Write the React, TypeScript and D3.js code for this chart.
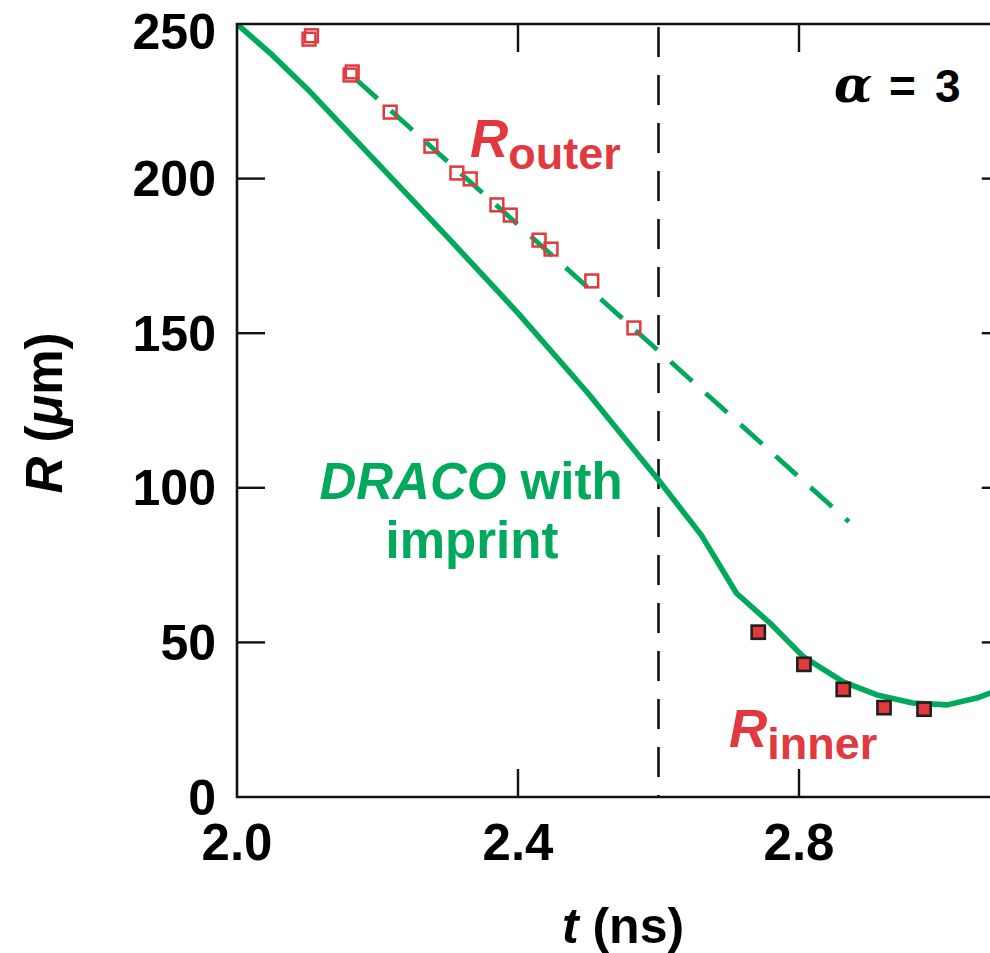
import React from "react";
import * as d3 from "d3";

// ---- data ----
const xTicks = [2.0, 2.4, 2.8];
const yTicks = [0, 50, 100, 150, 200, 250];

// DRACO with imprint (solid)
const tSim = [2.0, 2.05, 2.1, 2.2, 2.3, 2.4, 2.5, 2.6, 2.661, 2.711, 2.759, 2.806, 2.863, 2.911, 2.962, 3.011, 3.053, 3.072, 3.1];
const rSim = [250, 240, 229, 205, 181, 156.5, 130.5, 102.5, 84.7, 65.9, 56.2, 45.4, 37.2, 33, 30.4, 29.8, 32, 33.6, 36];

// outer-radius fit (dashed)
const tFit = [2.165, 2.871];
const rFit = [233, 89];

// measured R_outer (open squares)
const tOuter = [2.1025, 2.106, 2.161, 2.164, 2.218, 2.276, 2.313, 2.332, 2.37, 2.389, 2.43, 2.447, 2.505, 2.565];
const rOuter = [245.1, 246.2, 233.5, 234.5, 221.5, 210.5, 201.8, 199.9, 191.5, 188.2, 180.1, 177.2, 166.9, 151.7];

// measured R_inner (filled squares)
const tInner = [2.742, 2.807, 2.863, 2.921, 2.978];
const rInner = [53.3, 42.9, 34.8, 28.9, 28.4];

const markerTime = 2.6;

const GREEN = "#00a95c";
const RED = "#e2393f";
const FONT = "'Liberation Sans', Arial, Helvetica, sans-serif";

export default function App() {
  const W = 990, H = 953;
  const x = d3.scaleLinear().domain([2.0, 2.8]).range([237, 799]);
  const y = d3.scaleLinear().domain([0, 250]).range([797, 24]);
  const x0 = x(2.0), x1 = x(3.1), y0 = y(0), y1 = y(250);
  const tickLen = 28;

  const line = d3.line<[number, number]>().x(d => x(d[0])).y(d => y(d[1]));
  const simPath = line(tSim.map((t, i) => [t, rSim[i]]))!;
  const fitPath = line(tFit.map((t, i) => [t, rFit[i]]))!;

  const innerTicksX = xTicks.filter(v => v > 2.0);
  const innerTicksY = yTicks.filter(v => v > 0 && v < 250);

  return (
    <svg width={W} height={H} style={{ position: "absolute", left: 0, top: 0, background: "#fff" }}
      fontFamily={FONT} fontWeight="bold">
      <defs>
        <clipPath id="plot">
          <rect x={x0} y={y1} width={x1 - x0} height={y0 - y1} />
        </clipPath>
      </defs>
      <rect x={0} y={0} width={W} height={H} fill="#fff" />

      {/* vertical dashed marker */}
      <line x1={x(markerTime)} x2={x(markerTime)} y1={y1} y2={y0} stroke="#111" strokeWidth={2.6}
        strokeDasharray="30 18" strokeDashoffset={45} />

      <g clipPath="url(#plot)">
        <path d={fitPath} fill="none" stroke={GREEN} strokeWidth={4.8} strokeDasharray="29 18" strokeDashoffset={43} />
        <path d={simPath} fill="none" stroke={GREEN} strokeWidth={5.6} strokeLinejoin="round" />
      </g>

      {/* open squares */}
      {tOuter.map((t, i) => (
        <rect key={"o" + i} x={x(t) - 6.4} y={y(rOuter[i]) - 6.4} width={12.8} height={12.8}
          fill="none" stroke={RED} strokeWidth={2.5} />
      ))}
      {/* filled squares */}
      {tInner.map((t, i) => (
        <rect key={"i" + i} x={x(t) - 6.6} y={y(rInner[i]) - 6.6} width={13.2} height={13.2}
          fill={RED} stroke="#231f20" strokeWidth={2.6} />
      ))}

      {/* frame */}
      <path d={`M${x1},${y1}H${x0}V${y0}H${x1}V${y1}`} fill="none" stroke="#111" strokeWidth={2.6} />
      {innerTicksX.map(v => (
        <g key={"xt" + v}>
          <line x1={x(v)} x2={x(v)} y1={y0} y2={y0 - tickLen} stroke="#111" strokeWidth={2.4} />
          <line x1={x(v)} x2={x(v)} y1={y1} y2={y1 + tickLen} stroke="#111" strokeWidth={2.4} />
        </g>
      ))}
      {innerTicksY.map(v => (
        <g key={"yt" + v}>
          <line x1={x0} x2={x0 + tickLen} y1={y(v)} y2={y(v)} stroke="#111" strokeWidth={2.4} />
          <line x1={x1} x2={x1 - tickLen} y1={y(v)} y2={y(v)} stroke="#111" strokeWidth={2.4} />
        </g>
      ))}

      {/* tick labels */}
      {yTicks.map(v => (
        <text key={"yl" + v} x={216} y={Math.max(y(v), 31) + 17.5} textAnchor="end" fontSize={50} fill="#000">
          {v}
        </text>
      ))}
      {xTicks.map(v => (
        <text key={"xl" + v} x={x(v)} y={860} textAnchor="middle" fontSize={51} fill="#000">
          {v.toFixed(1)}
        </text>
      ))}

      {/* axis titles */}
      <text x={623} y={943} textAnchor="middle" fontSize={50} fill="#000">
        <tspan fontStyle="italic">t</tspan> (ns)
      </text>
      <text transform="translate(62,413) rotate(-90)" textAnchor="middle" fontSize={51} fill="#000">
        <tspan fontStyle="italic">R</tspan> (<tspan fontStyle="italic">μ</tspan>m)
      </text>

      {/* annotations */}
      <text x={470} y={157} fontSize={53} fill={RED}>
        <tspan fontStyle="italic">R</tspan>
        <tspan dy={12} fontSize={45}>outer</tspan>
      </text>
      <text x={729} y={747} fontSize={53} fill={RED}>
        <tspan fontStyle="italic">R</tspan>
        <tspan dy={12} fontSize={45}>inner</tspan>
      </text>
      <text x={471} y={499} textAnchor="middle" fontSize={51} fill={GREEN}>
        <tspan fontStyle="italic">DRACO</tspan> with
      </text>
      <text x={472} y={558} textAnchor="middle" fontSize={51} fill={GREEN}>imprint</text>
      <text y={102} fontSize={46} fill="#000">
        <tspan x={834} fontFamily="'DejaVu Serif', 'Liberation Serif', serif" fontStyle="italic" fontWeight="bold" fontSize={50}>α</tspan>
        <tspan x={889}>=</tspan>
        <tspan x={935}>3</tspan>
      </text>
    </svg>
  );
}
